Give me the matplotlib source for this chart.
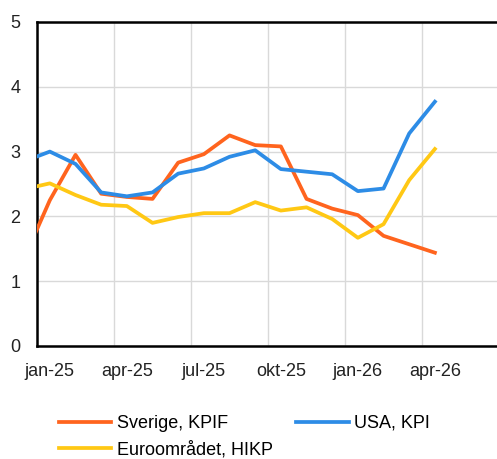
import matplotlib
matplotlib.use("Agg")
import matplotlib.pyplot as plt
from matplotlib.ticker import FixedLocator

plt.rcParams["font.family"] = ["Liberation Sans", "DejaVu Sans"]

# -------- data (monthly, dec-24 .. apr-26; dec-24 is clipped at the left edge) --------
months = ["dec-24", "jan-25", "feb-25", "mar-25", "apr-25", "maj-25", "jun-25",
          "jul-25", "aug-25", "sep-25", "okt-25", "nov-25", "dec-25", "jan-26",
          "feb-26", "mar-26", "apr-26"]
sverige_kpif = [1.35, 2.25, 2.95, 2.35, 2.30, 2.27, 2.83, 2.96, 3.25, 3.10, 3.08,
                2.27, 2.12, 2.02, 1.70, 1.57, 1.44]
usa_kpi = [2.85, 3.00, 2.81, 2.37, 2.31, 2.37, 2.66, 2.74, 2.92, 3.02, 2.73,
           2.69, 2.65, 2.39, 2.43, 3.28, 3.77]
euro_hikp = [2.42, 2.51, 2.33, 2.18, 2.16, 1.90, 1.99, 2.05, 2.05, 2.22, 2.09,
             2.14, 1.96, 1.67, 1.88, 2.56, 3.04]
tick_labels = ["jan-25", "apr-25", "jul-25", "okt-25", "jan-26", "apr-26"]

ORANGE = "#FF641E"
BLUE = "#2D8CE6"
YELLOW = "#FFC814"

x = list(range(-1, len(months) - 1))  # jan-25 -> 0

fig = plt.figure(figsize=(4.97, 4.59), dpi=100)
ax = fig.add_axes([37 / 497, 1 - 346 / 459, 1 - 37 / 497, (346 - 22) / 459])

lw = 2.7
l_se, = ax.plot(x, sverige_kpif, color=ORANGE, lw=lw, label="Sverige, KPIF", zorder=3)
l_us, = ax.plot(x, usa_kpi, color=BLUE, lw=lw, label="USA, KPI", zorder=3)
l_eu, = ax.plot(x, euro_hikp, color=YELLOW, lw=lw, label="Euroområdet, HIKP", zorder=3)

ax.set_xlim(-0.5, -0.5 + 460 / 25.67)
ax.set_ylim(0, 5)

ax.set_xticks([0, 3, 6, 9, 12, 15])
ax.set_xticklabels(tick_labels)
ax.xaxis.set_minor_locator(FixedLocator([-0.5 + 3 * j for j in range(7)]))
ax.set_yticks([0, 1, 2, 3, 4, 5])

ax.tick_params(axis="both", which="both", length=0, labelsize=13, colors="#222222")
ax.tick_params(axis="x", pad=12)
ax.tick_params(axis="y", pad=12)

ax.grid(axis="y", which="major", color="#d9d9d9", lw=1)
ax.grid(axis="x", which="minor", color="#d9d9d9", lw=1)
ax.grid(axis="x", which="major", visible=False)

for side in ["left", "bottom", "top"]:
    ax.spines[side].set_color("black")
    ax.spines[side].set_linewidth(1.8)
ax.spines["right"].set_visible(False)

# column-wise fill: Sverige / Euro in col 1, USA in col 2
fig.legend([l_se, l_eu, l_us], ["Sverige, KPIF", "Euroområdet, HIKP", "USA, KPI"],
           loc="upper left", bbox_to_anchor=(59 / 497, 1 - 415 / 459), ncol=2,
           frameon=False, fontsize=13, handlelength=2.9, handletextpad=0.3,
           columnspacing=1.3, labelspacing=0.5, borderaxespad=0, borderpad=0)

fig.savefig("out.png", dpi=100)
